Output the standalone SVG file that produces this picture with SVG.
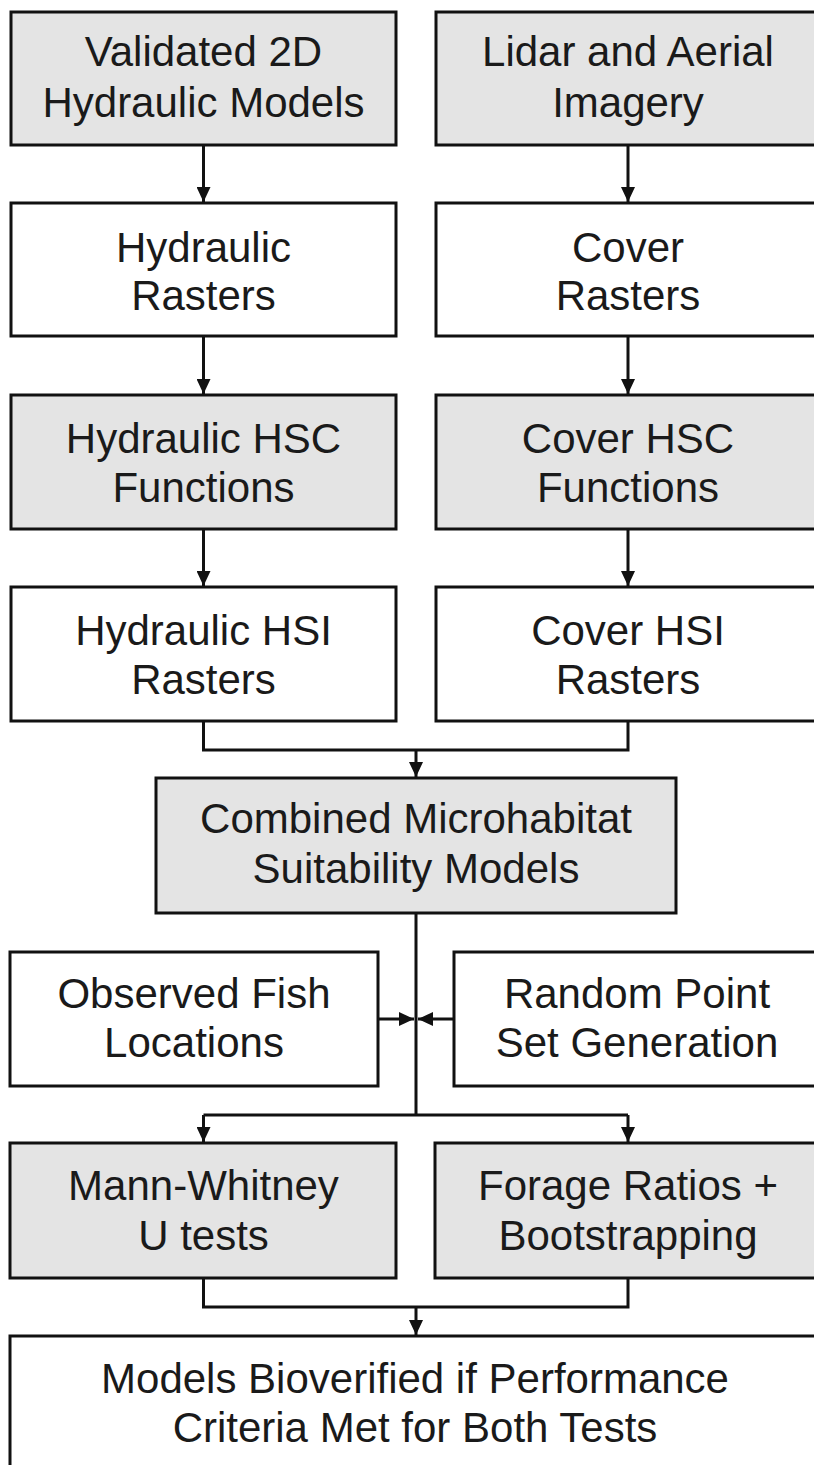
<svg xmlns="http://www.w3.org/2000/svg" width="814" height="1465" viewBox="0 0 814 1465">
<style>
.box{stroke:#111;stroke-width:3;fill:#fff}
.g{fill:#e4e4e4}
.t{font-family:"Liberation Sans",Arial,sans-serif;font-size:42px;fill:#1a1a1a;text-anchor:middle}
.c{stroke:#111;stroke-width:3;fill:none}
</style>
<defs>
<marker id="ah" viewBox="0 0 15 14" refX="15" refY="7" markerWidth="15" markerHeight="14" markerUnits="userSpaceOnUse" orient="auto">
<path d="M0,0 L15,7 L0,14 Z" fill="#111"/>
</marker>
</defs>
<rect width="814" height="1465" fill="#fff"/>
<g id="connectors">
<line class="c" x1="203.5" y1="145" x2="203.5" y2="202" marker-end="url(#ah)"/>
<line class="c" x1="628" y1="145" x2="628" y2="202" marker-end="url(#ah)"/>
<line class="c" x1="203.5" y1="336" x2="203.5" y2="394" marker-end="url(#ah)"/>
<line class="c" x1="628" y1="336" x2="628" y2="394" marker-end="url(#ah)"/>
<line class="c" x1="203.5" y1="529" x2="203.5" y2="586" marker-end="url(#ah)"/>
<line class="c" x1="628" y1="529" x2="628" y2="586" marker-end="url(#ah)"/>
<path class="c" d="M203.5,721 V750 H628 V721"/>
<line class="c" x1="416" y1="750" x2="416" y2="777" marker-end="url(#ah)"/>
<path class="c" d="M416,913 V1115 M203.5,1115 H628"/>
<line class="c" x1="203.5" y1="1115" x2="203.5" y2="1142" marker-end="url(#ah)"/>
<line class="c" x1="628" y1="1115" x2="628" y2="1142" marker-end="url(#ah)"/>
<line class="c" x1="378" y1="1019" x2="414" y2="1019" marker-end="url(#ah)"/>
<line class="c" x1="454" y1="1019" x2="418" y2="1019" marker-end="url(#ah)"/>
<path class="c" d="M203.5,1278 V1307 H628 V1278"/>
<line class="c" x1="416" y1="1307" x2="416" y2="1335" marker-end="url(#ah)"/>
</g>
<g id="validated">
<rect class="box g" x="11" y="12" width="385" height="133"/>
<text class="t" x="203.5" y="66">Validated 2D</text>
<text class="t" x="203.5" y="117">Hydraulic Models</text>
</g>
<g id="lidar">
<rect class="box g" x="436" y="12" width="385" height="133"/>
<text class="t" x="628" y="66">Lidar and Aerial</text>
<text class="t" x="628" y="117">Imagery</text>
</g>
<g id="hydraulic-rasters">
<rect class="box" x="11" y="203" width="385" height="133"/>
<text class="t" x="203.5" y="262">Hydraulic</text>
<text class="t" x="203.5" y="310">Rasters</text>
</g>
<g id="cover-rasters">
<rect class="box" x="436" y="203" width="385" height="133"/>
<text class="t" x="628" y="262">Cover</text>
<text class="t" x="628" y="310">Rasters</text>
</g>
<g id="hydraulic-hsc">
<rect class="box g" x="11" y="395" width="385" height="134"/>
<text class="t" x="203.5" y="453">Hydraulic HSC</text>
<text class="t" x="203.5" y="502">Functions</text>
</g>
<g id="cover-hsc">
<rect class="box g" x="436" y="395" width="385" height="134"/>
<text class="t" x="628" y="453">Cover HSC</text>
<text class="t" x="628" y="502">Functions</text>
</g>
<g id="hydraulic-hsi">
<rect class="box" x="11" y="587" width="385" height="134"/>
<text class="t" x="203.5" y="645">Hydraulic HSI</text>
<text class="t" x="203.5" y="694">Rasters</text>
</g>
<g id="cover-hsi">
<rect class="box" x="436" y="587" width="385" height="134"/>
<text class="t" x="628" y="645">Cover HSI</text>
<text class="t" x="628" y="694">Rasters</text>
</g>
<g id="combined">
<rect class="box g" x="156" y="778" width="520" height="135"/>
<text class="t" x="416" y="833">Combined Microhabitat</text>
<text class="t" x="416" y="883">Suitability Models</text>
</g>
<g id="observed">
<rect class="box" x="10" y="952" width="368" height="134"/>
<text class="t" x="194" y="1008">Observed Fish</text>
<text class="t" x="194" y="1057">Locations</text>
</g>
<g id="random">
<rect class="box" x="454" y="952" width="367" height="134"/>
<text class="t" x="637" y="1008">Random Point</text>
<text class="t" x="637" y="1057">Set Generation</text>
</g>
<g id="mann-whitney">
<rect class="box g" x="10" y="1143" width="386" height="135"/>
<text class="t" x="203.5" y="1200">Mann-Whitney</text>
<text class="t" x="203.5" y="1250">U tests</text>
</g>
<g id="forage">
<rect class="box g" x="435" y="1143" width="386" height="135"/>
<text class="t" x="628" y="1200">Forage Ratios +</text>
<text class="t" x="628" y="1250">Bootstrapping</text>
</g>
<g id="final">
<rect class="box" x="10" y="1336" width="811" height="140"/>
<text class="t" x="415" y="1393">Models Bioverified if Performance</text>
<text class="t" x="415" y="1442">Criteria Met for Both Tests</text>
</g>
</svg>
